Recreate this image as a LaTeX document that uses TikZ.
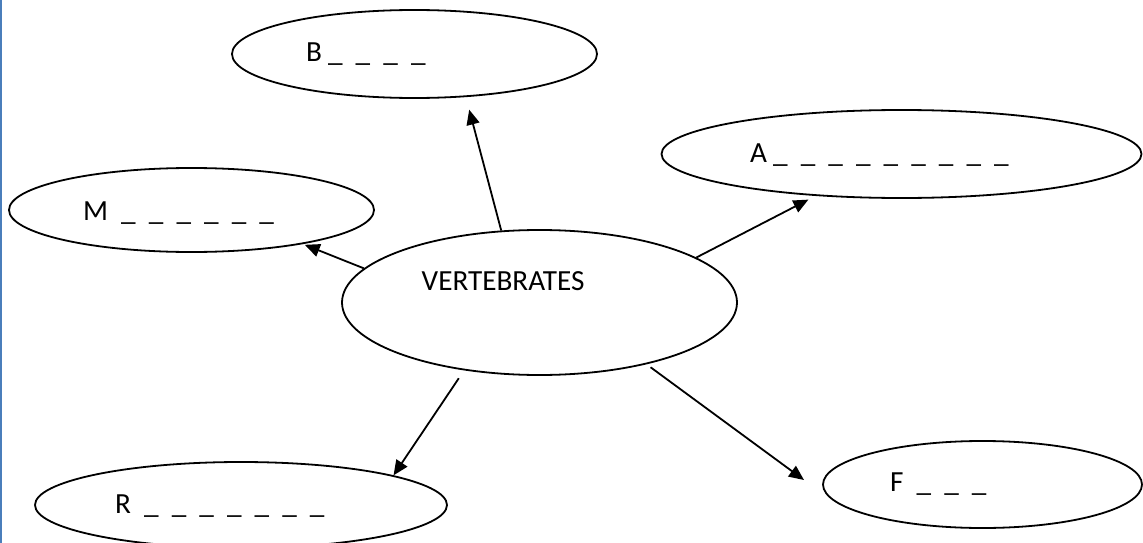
\documentclass[tikz,border=0pt]{standalone}
\usepackage{fontspec}
\setmainfont{Carlito}
\usetikzlibrary{arrows.meta,shapes.geometric}
\definecolor{edgeblue}{RGB}{74,126,187}
\newcommand{\widesp}{\spaceskip=13.1pt\relax}
\begin{document}
\begin{tikzpicture}[x=1pt,y=-1pt,
  bubble/.style n args={2}{draw=black,line width=1.8pt,ellipse,inner sep=0pt,minimum width=#1,minimum height=#2},
  lbl/.style={anchor=base west,inner sep=0pt,font=\fontsize{29.2}{35}\selectfont,execute at begin node=\widesp},
  arr/.style={line width=1.8pt,-{Triangle[length=15pt,width=13pt]}}]
\useasboundingbox (0,0) rectangle (1143,543);
\fill[edgeblue] (0,0) rectangle (2.3,543);
% bubbles
\node[bubble={395}{145}] (v) at (539.5,302.5) {};
\node[bubble={365}{88}] (b) at (414.5,54) {};
\node[bubble={480}{88}] (a) at (901.5,154) {};
\node[bubble={365}{84}] (m) at (191.5,210) {};
\node[bubble={412}{86}] (r) at (241,505) {};
\node[bubble={319}{87}] (f) at (982.5,484.5) {};
% labels
\node[lbl] (tv) at (421.5,290) {VERTEBRATES};
\node[lbl] (tb) at (306,62) {B\hspace{6pt}\_ \_ \_ \_};
\node[lbl] (ta) at (750,162) {A\hspace{6pt}\_ \_ \_ \_ \_ \_ \_ \_ \_};
\node[lbl] (tm) at (83,220) {M \_ \_ \_ \_ \_ \_};
\node[lbl] (tr) at (115,513) {R \_ \_ \_ \_ \_ \_ \_};
\node[lbl] (tf) at (890,491) {F \_ \_ \_};
% connectors
\coordinate (ftip) at (804,480);
\draw[arr,shorten >=13pt] (v.118.4) -- (b.-40);
\draw[arr,shorten >=8pt] (v.16.5) -- (a.206.6);
\draw[arr,shorten >=2pt] (v.169.3) -- (m.-17.5);
\draw[arr,shorten <=9.5pt] (v.-138.9) -- (r.11.25);
\draw[arr,shorten <=5pt] (v.-30.6) -- (ftip);
\end{tikzpicture}
\end{document}
